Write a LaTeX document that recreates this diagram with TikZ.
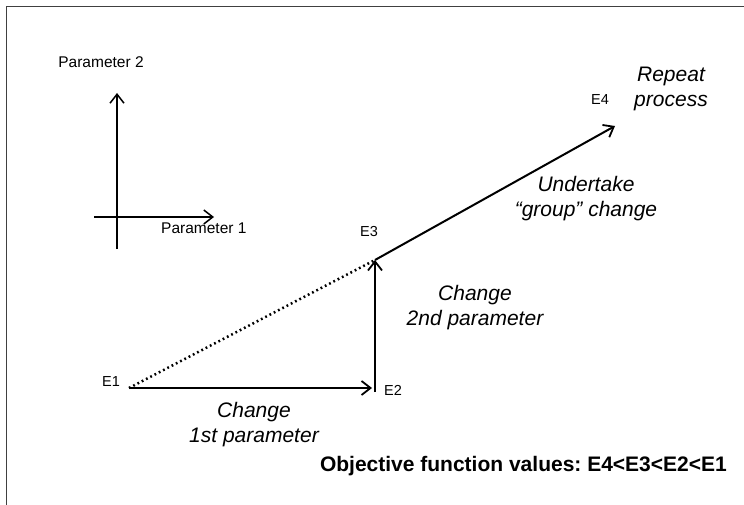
\documentclass[tikz,border=0pt]{standalone}
\usepackage{fontspec}
\setmainfont{Liberation Sans}
\usetikzlibrary{arrows.meta}
\frenchspacing
\begin{document}
\begin{tikzpicture}[x=1pt,y=-1pt,
  frame/.style={line width=1pt, black!75},
  axis/.style={line width=1.5pt, -{Straight Barb[length=9pt,width=14pt,line width=1.5pt]}},
  move/.style={line width=2pt, -{Straight Barb[length=9pt,width=14pt,line width=1.8pt]}},
  dotline/.style={line width=2.5pt, dash pattern=on 1.8pt off 3pt},
  plab/.style={font=\fontsize{15.5}{18}\selectfont},
  elab/.style={font=\fontsize{14.5}{17}\selectfont},
  ilab/.style={font=\fontsize{21}{25}\selectfont\itshape, align=center},
  blab/.style={font=\fontsize{21}{24}\selectfont\bfseries}]
\useasboundingbox (0,0) rectangle (744,505);
\draw[frame] (6,505) -- (6,7) -- (744,7);
% axes
\coordinate (ax0) at (117,249);
\coordinate (ay) at (117,93);
\coordinate (ax1) at (94,217);
\coordinate (ax2) at (214,217);
\draw[axis] (ax0) -- (ay);
\draw[axis] (ax1) -- (ax2);
\node[plab] (p2) at (101,62) {Parameter 2};
\node[plab, anchor=west, inner sep=0pt] (p1) at (161,228) {Parameter 1};
% points
\coordinate (e1) at (129,388);
\coordinate (e2h) at (372,388);
\coordinate (e2) at (375,392);
\coordinate (e3) at (375,260);
\coordinate (e4) at (615,126);
\draw[dotline] (e1) -- (e3);
\draw[move] (e1) -- (e2h);
\draw[move] (e2) -- (e3);
\draw[move] (e3) -- (e4);
% labels
\node[elab] (l1) at (111,382) {E1};
\node[elab] (l2) at (393,390) {E2};
\node[elab] (l3) at (369,232) {E3};
\node[elab] (l4) at (600,100) {E4};
\node[ilab] (c1) at (254,424.5) {Change\\1st parameter};
\node[ilab] (c2) at (475,307.5) {Change\\2nd parameter};
\node[ilab] (c3) at (586,198.5) {Undertake\\“group” change};
\node[ilab] (c4) at (671,88.5) {Repeat\\process};
\node[blab, anchor=east, inner sep=0pt] (obj) at (727,466) {Objective function values: E4<E3<E2<E1};
\end{tikzpicture}
\end{document}
